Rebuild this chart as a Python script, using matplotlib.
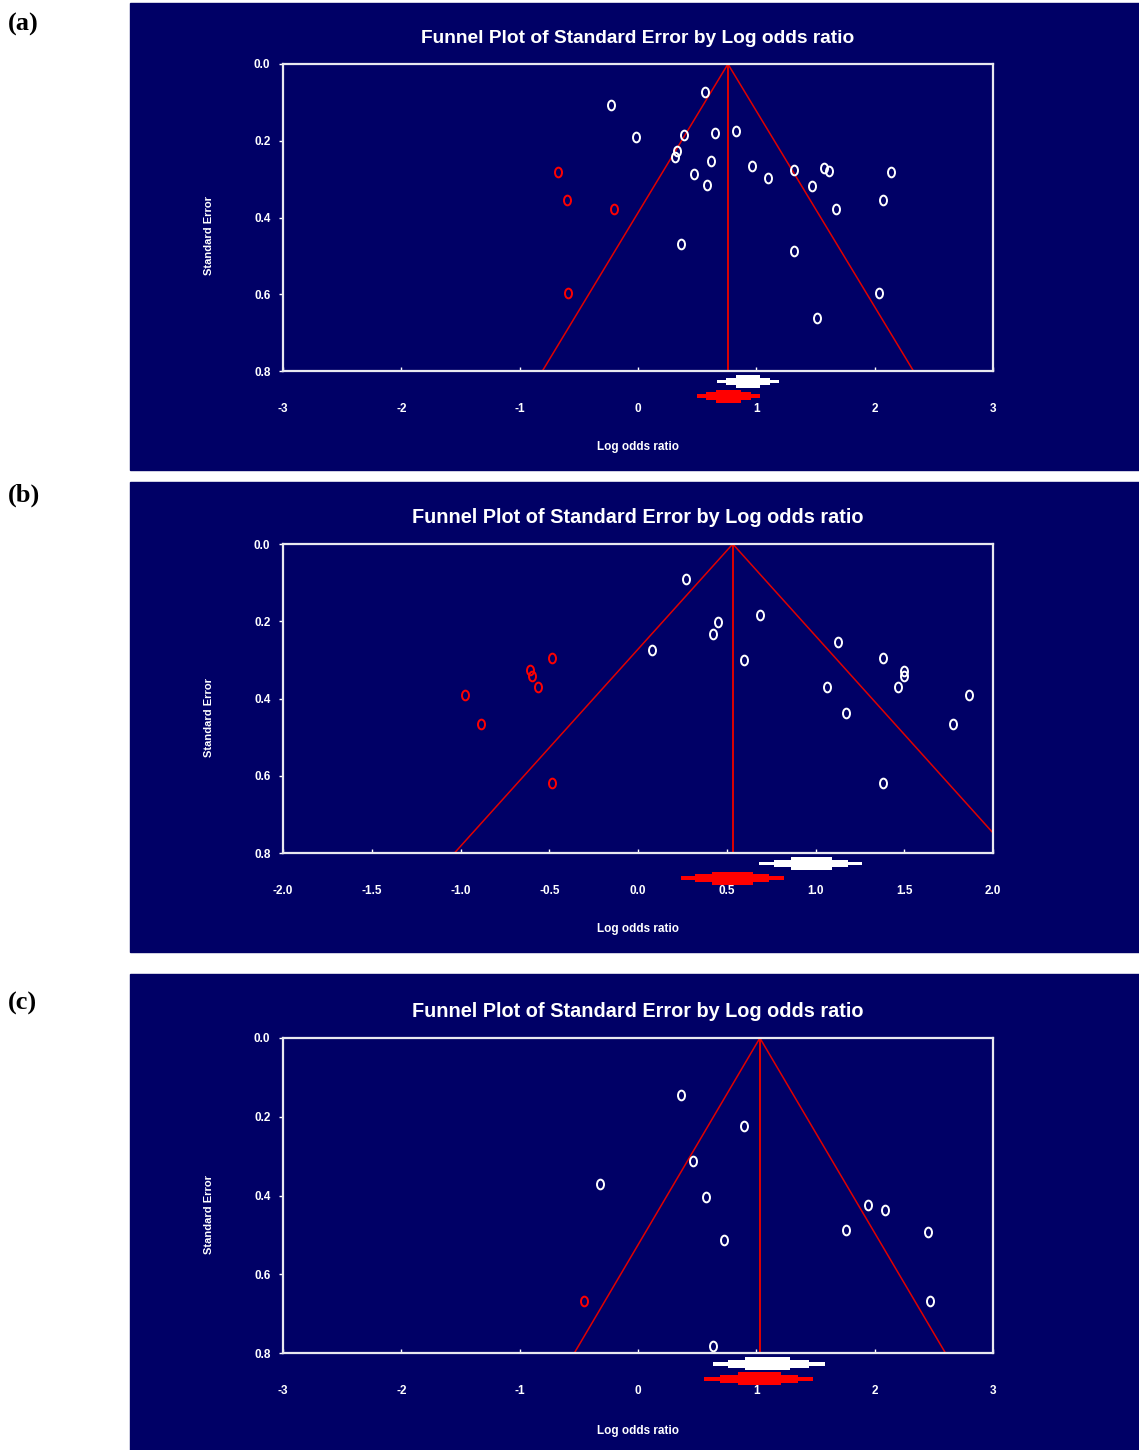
import numpy as np
import matplotlib.pyplot as plt
from matplotlib.patches import Rectangle
from matplotlib.path import Path
from matplotlib.markers import MarkerStyle
from matplotlib.transforms import Affine2D, blended_transform_factory

plt.rcParams['font.family'] = ['Liberation Sans', 'DejaVu Sans']

NAVY = '#000066'
RED = '#ff0000'
W, H = 1139, 1450

# ---- panel (a) ----
a_lor = [0.57, -0.23, -0.02, 0.39, 0.65, 0.83, 0.33, 0.31, 0.62, 0.96, 0.47, 0.58,
         1.10, 1.32, 1.57, 1.61, 2.14, 1.47, 2.07, 1.67, 0.36, 1.32, 2.04, 1.51]
a_se = [0.074, 0.107, 0.190, 0.185, 0.180, 0.175, 0.227, 0.243, 0.252, 0.265, 0.286, 0.316,
        0.297, 0.276, 0.270, 0.279, 0.281, 0.319, 0.355, 0.377, 0.470, 0.488, 0.598, 0.663]
a_imp_lor = [-0.68, -0.60, -0.20, -0.59]
a_imp_se = [0.281, 0.355, 0.377, 0.598]
a_obs = (0.93, 0.67, 1.19)   # observed pooled estimate (mid, lower, upper)
a_adj = (0.76, 0.50, 1.03)   # trim-and-fill adjusted estimate
a_xticks = [-3, -2, -1, 0, 1, 2, 3]
a_xlabels = ['-3', '-2', '-1', '0', '1', '2', '3']

# ---- panel (b) ----
b_lor = [0.273, 0.451, 0.422, 0.686, 0.078, 0.595, 1.124, 1.381, 1.500, 1.500, 1.062,
         1.464, 1.862, 1.171, 1.772, 1.381]
b_se = [0.090, 0.201, 0.233, 0.184, 0.274, 0.301, 0.253, 0.296, 0.328, 0.343, 0.369,
        0.369, 0.391, 0.437, 0.465, 0.618]
b_imp_lor = [-0.483, -0.606, -0.595, -0.563, -0.972, -0.885, -0.483]
b_imp_se = [0.296, 0.326, 0.343, 0.369, 0.391, 0.465, 0.618]
b_obs = (0.98, 0.68, 1.26)
b_adj = (0.534, 0.24, 0.82)
b_xticks = [-2.0, -1.5, -1.0, -0.5, 0.0, 0.5, 1.0, 1.5, 2.0]
b_xlabels = ['-2.0', '-1.5', '-1.0', '-0.5', '0.0', '0.5', '1.0', '1.5', '2.0']

# ---- panel (c) ----
c_lor = [0.364, 0.896, 0.467, -0.32, 0.575, 1.944, 2.09, 1.754, 2.454, 0.727, 2.47, 0.635]
c_se = [0.146, 0.224, 0.312, 0.371, 0.403, 0.424, 0.438, 0.487, 0.493, 0.513, 0.667, 0.781]
c_imp_lor = [-0.456]
c_imp_se = [0.667]
c_obs = (1.09, 0.63, 1.58)
c_adj = (1.03, 0.56, 1.48)
c_xticks = [-3, -2, -1, 0, 1, 2, 3]
c_xlabels = ['-3', '-2', '-1', '0', '1', '2', '3']

yticks = [0.0, 0.2, 0.4, 0.6, 0.8]
ylabels = ['0.0', '0.2', '0.4', '0.6', '0.8']
se_max = 0.8

# layout in pixels: (bg top, bg bottom, axes top, axes bottom, letter y, title size)
layout = [(3, 470, 64, 371, 24, 13.8),
          (482, 952, 544, 853, 495, 14.3),
          (974, 1450, 1038, 1353, 1003, 14.3)]

oval = MarkerStyle(Path.unit_circle().transformed(Affine2D().scale(0.72, 1.0)))


def stepped_diamond(ax, est, yfrac, color):
    mid, lo, hi = est
    trans = blended_transform_factory(ax.transData, ax.transAxes)
    h = 0.021
    for wf, hf in [(1.0, 0.3), (0.72, 0.6), (0.4, 1.0)]:
        x0 = mid - (mid - lo) * wf
        x1 = mid + (hi - mid) * wf
        ax.add_patch(Rectangle((x0, yfrac - h * hf), x1 - x0, 2 * h * hf,
                               transform=trans, color=color, lw=0, clip_on=False))


fig = plt.figure(figsize=(W / 100, H / 100), dpi=100)

panels = [
    ('(a)', a_lor, a_se, a_imp_lor, a_imp_se, a_obs, a_adj, a_xticks, a_xlabels),
    ('(b)', b_lor, b_se, b_imp_lor, b_imp_se, b_obs, b_adj, b_xticks, b_xlabels),
    ('(c)', c_lor, c_se, c_imp_lor, c_imp_se, c_obs, c_adj, c_xticks, c_xlabels),
]

for (tag, lor, se, ilor, ise, obs, adj, xt, xl), (bt, bb, at, ab, ly, tsize) in zip(panels, layout):
    fig.patches.append(Rectangle((130 / W, 1 - bb / H), (W - 130) / W, (bb - bt) / H,
                                 transform=fig.transFigure, color=NAVY, zorder=-5))
    fig.text(8 / W, 1 - ly / H, tag, family=['Liberation Serif', 'DejaVu Serif'],
             fontweight='bold', fontsize=19, va='center', ha='left')

    ax = fig.add_axes([283 / W, 1 - ab / H, 710 / W, (ab - at) / H])
    ax.set_zorder(1)
    ax.set_facecolor(NAVY)
    ax.set_xlim(xt[0], xt[-1])
    ax.set_ylim(se_max, 0)

    # funnel: adjusted estimate +/- 1.96 * SE
    se_line = np.array([se_max, 0, se_max])
    ax.plot([adj[0] - 1.96 * se_max, adj[0], adj[0] + 1.96 * se_max], se_line,
            color='#e00000', lw=1.1)
    ax.plot([adj[0], adj[0]], [0, se_max], color='#e00000', lw=1.4)

    ax.plot(lor, se, ls='none', marker=oval, ms=7, mfc='none', mec='white', mew=1.4)
    ax.plot(ilor, ise, ls='none', marker=oval, ms=7, mfc='none', mec=RED, mew=1.4)

    stepped_diamond(ax, obs, -0.034, 'white')
    stepped_diamond(ax, adj, -0.082, RED)

    for s in ax.spines.values():
        s.set_color('#e8e8f0')
        s.set_linewidth(1.6)

    ax.set_xticks(xt)
    ax.set_xticklabels(xl)
    ax.set_yticks(yticks)
    ax.set_yticklabels(ylabels)
    ax.tick_params(axis='x', direction='in', length=3, width=1, color='white',
                   labelcolor='white', labelsize=8.5, pad=23)
    ax.tick_params(axis='y', direction='out', length=3, width=1, color='white',
                   labelcolor='white', labelsize=8.5, pad=6)
    for lab in ax.get_xticklabels() + ax.get_yticklabels():
        lab.set_fontweight('bold')

    ax.set_title('Funnel Plot of Standard Error by Log odds ratio', color='white',
                 fontsize=tsize, fontweight='bold', pad=15)
    ax.set_xlabel('Log odds ratio', color='white', fontsize=8.5, fontweight='bold')
    ax.xaxis.set_label_coords(0.5, -0.228)
    ax.set_ylabel('Standard Error', color='white', fontsize=8, fontweight='bold')
    ax.yaxis.set_label_coords(-0.097, 0.44)

fig.savefig('out.png', dpi=100, facecolor='white')
